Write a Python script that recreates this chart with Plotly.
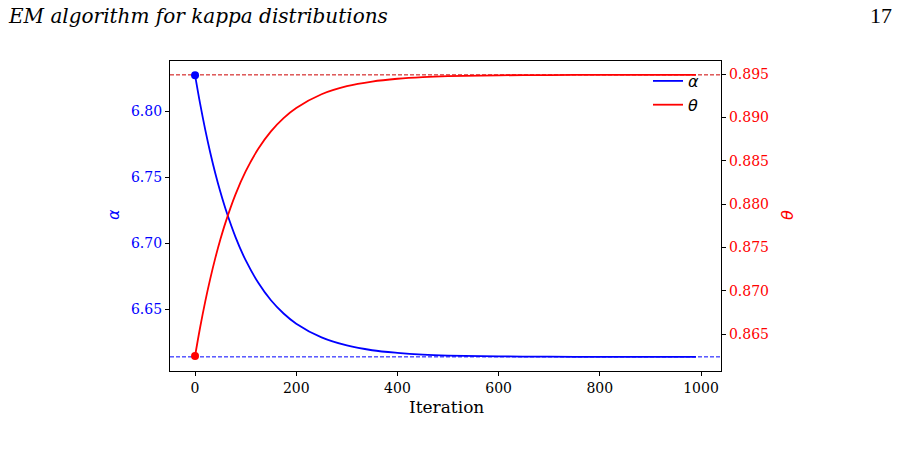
import plotly.graph_objects as go

# Values
iterations = [0, 10, 20, 30, 40, 50, 60, 80, 100, 125, 150, 175, 200, 250, 300,
              350, 400, 450, 500, 600, 700, 800, 900, 990]
alpha = [6.8273, 6.8057, 6.7863, 6.7688, 6.7531, 6.7390, 6.7264, 6.7048, 6.6873,
         6.6702, 6.6570, 6.6470, 6.6393, 6.6289, 6.6228, 6.6192, 6.6172, 6.6159,
         6.6152, 6.6146, 6.6143, 6.6142, 6.6142, 6.6142]
theta = [0.86247, 0.86576, 0.86872, 0.87137, 0.87376, 0.87590, 0.87783, 0.88112,
         0.88377, 0.88638, 0.88838, 0.88991, 0.89108, 0.89266, 0.89359, 0.89413,
         0.89445, 0.89464, 0.89475, 0.89485, 0.89488, 0.89490, 0.89490, 0.89490]
alpha_ref = 6.6142
theta_ref = 0.8949

x_ticks = [0, 200, 400, 600, 800, 1000]
alpha_ticks = [6.65, 6.70, 6.75, 6.80]
theta_ticks = [0.865, 0.870, 0.875, 0.880, 0.885, 0.890, 0.895]

BLUE = "#0000ff"
RED = "#ff0000"
SERIF = "DejaVu Serif"

W, H = 901, 454
L, R, T, B = 170, 180, 61, 83
pw, ph = W - L - R, H - T - B

def px(x):
    return (x - L) / pw

def py(y):
    return (H - B - y) / ph

fig = go.Figure()

fig.add_trace(go.Scatter(x=iterations, y=alpha, mode="lines", name="<i>α</i>",
                         line=dict(color=BLUE, width=1.8, shape="spline"), yaxis="y"))
fig.add_trace(go.Scatter(x=iterations[:1], y=alpha[:1], mode="markers", showlegend=False,
                         marker=dict(color=BLUE, size=8), yaxis="y"))
fig.add_trace(go.Scatter(x=iterations, y=theta, mode="lines", name="<i>θ</i>",
                         line=dict(color=RED, width=1.8, shape="spline"), yaxis="y2"))
fig.add_trace(go.Scatter(x=iterations[:1], y=theta[:1], mode="markers", showlegend=False,
                         marker=dict(color=RED, size=8), yaxis="y2"))

fig.add_shape(type="line", xref="paper", x0=0, x1=1, yref="y", y0=alpha_ref, y1=alpha_ref,
              line=dict(color=BLUE, width=1, dash="4px,2px"), layer="below")
fig.add_shape(type="line", xref="paper", x0=0, x1=1, yref="y2", y0=theta_ref, y1=theta_ref,
              line=dict(color="#cc0000", width=1, dash="4px,2px"), layer="below")

axis_common = dict(showgrid=False, zeroline=False, showline=True, linecolor="black",
                   linewidth=1.2, ticks="outside", ticklen=4, tickcolor="black", tickwidth=1)

fig.update_layout(
    width=W, height=H,
    margin=dict(l=L, r=R, t=T, b=B),
    plot_bgcolor="white", paper_bgcolor="white",
    showlegend=True,
    legend=dict(x=px(648), xanchor="left", y=py(64), yanchor="top", bgcolor="rgba(0,0,0,0)",
                font=dict(family="DejaVu Sans", size=16, color="black"),
                tracegroupgap=0, itemwidth=30),
    xaxis=dict(range=[-49.5, 1039.5], tickvals=x_ticks, mirror=True,
               tickfont=dict(family=SERIF, size=14, color="black"), **axis_common),
    yaxis=dict(range=[6.6035, 6.838], tickvals=alpha_ticks, tickformat=".2f",
               tickfont=dict(family=SERIF, size=14, color=BLUE), **axis_common),
    yaxis2=dict(range=[0.86074, 0.8965], tickvals=theta_ticks, tickformat=".3f",
                overlaying="y", side="right",
                tickfont=dict(family=SERIF, size=14, color=RED), **axis_common),
)

fig.add_annotation(text="Iteration", xref="paper", yref="paper", x=px(446), y=py(407),
                   xanchor="center", yanchor="middle", showarrow=False,
                   font=dict(family=SERIF, size=17, color="black"))
fig.add_annotation(text="<i>α</i>", xref="paper", yref="paper", x=px(113), y=py(215),
                   xanchor="center", yanchor="middle", showarrow=False, textangle=-90,
                   font=dict(family="DejaVu Sans", size=16, color=BLUE))
fig.add_annotation(text="<i>θ</i>", xref="paper", yref="paper", x=px(787), y=py(215),
                   xanchor="center", yanchor="middle", showarrow=False, textangle=-90,
                   font=dict(family="DejaVu Sans", size=16, color=RED))
fig.add_annotation(text="<i>EM algorithm for kappa distributions</i>", xref="paper", yref="paper",
                   x=px(6), y=py(16), xanchor="left", yanchor="middle", showarrow=False,
                   font=dict(family="DejaVu Serif", size=20, color="black"))
fig.add_annotation(text="17", xref="paper", yref="paper", x=px(894), y=py(16),
                   xanchor="right", yanchor="middle", showarrow=False,
                   font=dict(family="Liberation Serif", size=22, color="black"))

fig.write_html("out.html")
